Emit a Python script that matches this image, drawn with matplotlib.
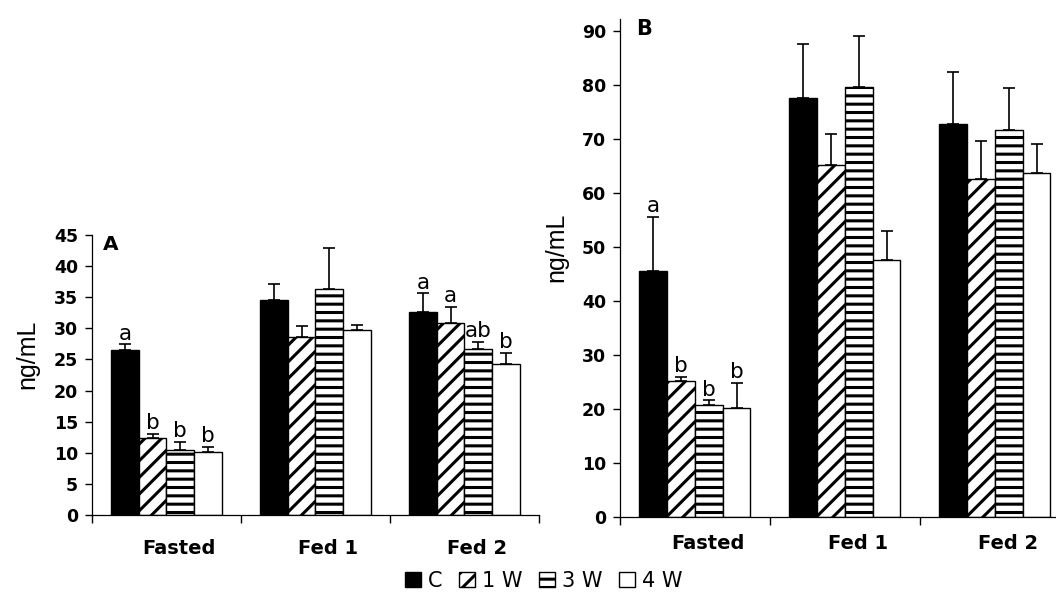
import numpy as np
import matplotlib.pyplot as plt

plt.rcParams['font.family'] = ['DejaVu Sans']
plt.rcParams['hatch.linewidth'] = 2.2

groups = ["Fasted", "Fed 1", "Fed 2"]
series = ["C", "1 W", "3 W", "4 W"]

# panel A: rows are C, 1 W, 3 W, 4 W; columns follow groups
a_means = [[26.5, 34.6, 32.6],
           [12.4, 28.6, 30.8],
           [10.4, 36.3, 26.7],
           [10.1, 29.8, 24.3]]
a_errs = [[0.9, 2.5, 3.0],
          [0.6, 1.8, 2.6],
          [1.3, 6.6, 1.1],
          [0.8, 0.7, 1.8]]
a_letters = [["a", "", "a"],
             ["b", "", "a"],
             ["b", "", "ab"],
             ["b", "", "b"]]

# panel B
b_means = [[45.6, 77.6, 72.7],
           [25.1, 65.2, 62.6],
           [20.7, 79.6, 71.6],
           [20.2, 47.5, 63.6]]
b_errs = [[10.0, 10.0, 9.7],
          [0.9, 5.8, 7.0],
          [0.9, 9.5, 7.8],
          [4.7, 5.4, 5.4]]
b_letters = [["a", "", ""],
             ["b", "", ""],
             ["b", "", ""],
             ["b", "", ""]]

fills = ["black", "white", "white", "white"]
hatches = [None, "//", "--", None]
W = 0.185


def draw_panel(ax, means, errs, letters, ymax, yticks, tag, tag_xy, tag_size, lab_pad):
    centers = np.arange(len(groups)) + 0.5
    bars = []
    for j in range(len(series)):
        pos = centers + (j - 1.5) * W
        b = ax.bar(pos, means[j], W, color=fills[j], edgecolor="black",
                   hatch=hatches[j], linewidth=1.0, label=series[j], zorder=2)
        bars.append(b)
        ax.errorbar(pos, means[j], yerr=[np.zeros(len(groups)), errs[j]],
                    fmt="none", ecolor="black", elinewidth=1.2, capsize=4,
                    capthick=1.2, zorder=3)
        for k in range(len(groups)):
            if letters[j][k]:
                ax.annotate(letters[j][k], (pos[k], means[j][k] + errs[j][k]),
                            xytext=(0, 0.5), textcoords="offset points",
                            ha="center", va="bottom", fontsize=15.5)

    ax.set_xlim(0, 3)
    ax.set_ylim(0, ymax)
    ax.set_xticks([0, 1, 2, 3])
    ax.set_xticklabels([])
    ax.set_xticks(centers + 0.085, minor=True)
    ax.set_xticklabels(groups, minor=True, fontweight="bold", fontsize=14)
    ax.tick_params(axis="x", which="major", direction="out", length=6, width=1)
    ax.tick_params(axis="x", which="minor", length=0, pad=lab_pad)
    ax.set_yticks(yticks)
    ax.set_yticklabels([str(v) for v in yticks], fontweight="bold", fontsize=12.5)
    ax.tick_params(axis="y", direction="out", length=5, width=1, pad=5)

    for s in ["top", "right"]:
        ax.spines[s].set_visible(False)
    for s in ["left", "bottom"]:
        ax.spines[s].set_linewidth(0.9)

    ax.text(tag_xy[0], tag_xy[1], tag, transform=ax.transAxes, ha="left", va="top",
            fontsize=tag_size, fontweight="bold")
    return bars


fig = plt.figure(figsize=(10.56, 5.92), dpi=100)

ax_a = fig.add_axes([0.0871, 0.1301, 0.4233, 0.4730])
bars = draw_panel(ax_a, a_means, a_errs, a_letters, 45, list(range(0, 46, 5)),
                  "A", (0.025, 1.0), 14.5, 17)

ax_b = fig.add_axes([0.5871, 0.1267, 0.4261, 0.8412])
draw_panel(ax_b, b_means, b_errs, b_letters, 92.2, list(range(0, 91, 10)),
           "B", (0.036, 1.0), 15, 12)

fig.text(27 / 1056, 1 - 354 / 592, "ng/mL", rotation=90, ha="center", va="center",
         fontsize=18, family=["Liberation Sans", "DejaVu Sans"])
fig.text(556 / 1056, 1 - 247 / 592, "ng/mL", rotation=90, ha="center", va="center",
         fontsize=18, family=["Liberation Sans", "DejaVu Sans"])

fig.legend(bars, series, loc="center", bbox_to_anchor=(0.515, 1 - 581 / 592),
           ncol=4, frameon=False, fontsize=15, handlelength=0.75, handleheight=0.75,
           handletextpad=0.35, columnspacing=0.8, borderpad=0, borderaxespad=0)

fig.savefig("out.png", dpi=100)
